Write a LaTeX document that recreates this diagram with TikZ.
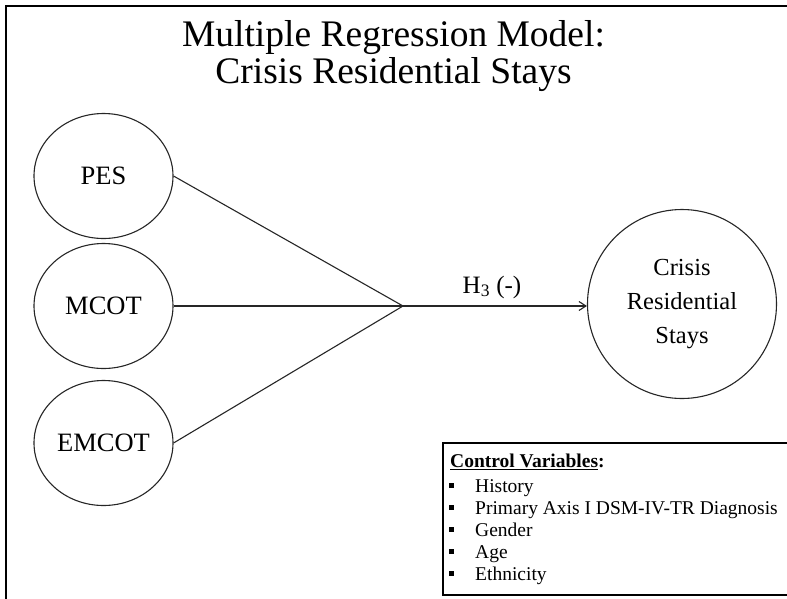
\documentclass[tikz,border=0pt]{standalone}
\usepackage{fontspec}
\setmainfont{Liberation Serif}
\usetikzlibrary{shapes.geometric,arrows.meta}
\begin{document}
\begin{tikzpicture}[x=1pt,y=-1pt,
  var/.style={ellipse,draw=black!85,line width=1.1pt,minimum width=139pt,minimum height=125pt,inner sep=0pt,font=\fontsize{26.5}{28}\selectfont},
  link/.style={draw=black!85,line width=1.1pt},
  outcome/.style={circle,draw=black!85,line width=1.1pt,minimum size=189pt,inner sep=0pt,align=center,font=\fontsize{24.5}{34}\selectfont},
  frameline/.style={line width=2pt},
  titletext/.style={anchor=base,inner sep=0pt,font=\fontsize{37.5}{37}\selectfont},
  listtext/.style={anchor=base west,inner sep=0pt,font=\fontsize{19.5}{22}\selectfont}]
\useasboundingbox (0,0) rectangle (787,598);
\clip (0,0) rectangle (787,598);
\fill[white] (0,0) rectangle (787,598);
% outer frame
\draw[frameline] (6,620) -- (6,6) -- (800,6);
% title
\node[titletext] (title1) at (393.5,46) {Multiple Regression Model:};
\node[titletext] (title2) at (393.5,83) {Crisis Residential Stays};
% predictors
\node[var] (pes) at (103.5,176) {PES};
\node[var] (mcot) at (103.5,306) {MCOT};
\node[var] (emcot) at (103.5,443) {EMCOT};
% outcome
\node[outcome] (crisis) at (682,304) {Crisis\\Residential\\Stays};
% connectors
\coordinate (hub) at (403,306);
\draw[link] (pes.east) -- (hub);
\draw[link] (mcot.east) -- (hub);
\draw[link] (emcot.east) -- (hub);
\draw[link,-{Straight Barb[length=7pt,width=9pt]}] (hub) -- (hub -| crisis.west);
\node[anchor=base,inner sep=0pt,font=\fontsize{25}{26}\selectfont] (h3) at (492,293) {H\textsubscript{3} (-)};
% control variables box
\draw[line width=1.6pt] (443,443) rectangle (800,595);
\node[listtext] (ctrl) at (450,467) {\textbf{\underline{Control Variables}:}};
\foreach \name/\txt/\yy in {history/History/492, axis/Primary Axis I DSM-IV-TR Diagnosis/514, gender/Gender/536, age/Age/558, ethnicity/Ethnicity/580}{
  \fill (449,\yy-9) rectangle (454,\yy-4);
  \node[listtext] (\name) at (475,\yy) {\txt};
}
\end{tikzpicture}
\end{document}
